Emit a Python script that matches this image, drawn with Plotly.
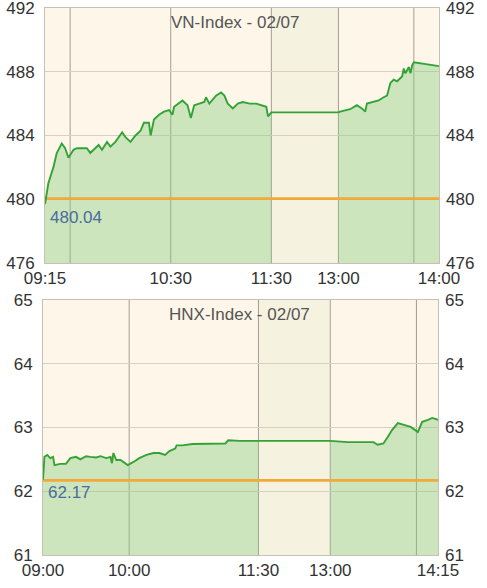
import plotly.graph_objects as go

# ---------------- data ----------------
vn_title = "VN-Index - 02/07"
vn_ref = 480.04
vn_morning_t = ["09:15", "09:17", "09:20", "09:22", "09:25", "09:27", "09:29", "09:32", "09:34",
                "09:40", "09:42", "09:45", "09:47", "09:49", "09:52", "09:54", "09:57", "10:01",
                "10:03", "10:06", "10:09", "10:12", "10:14", "10:17", "10:18", "10:20", "10:23",
                "10:26", "10:29", "10:31", "10:32", "10:37", "10:40", "10:42", "10:44", "10:47",
                "10:50", "10:51", "10:53", "10:57", "11:00", "11:02", "11:04", "11:07", "11:10",
                "11:13", "11:17", "11:21", "11:24", "11:27", "11:28", "11:30"]
vn_morning_v = [479.7, 481.0, 482.0, 482.9, 483.5, 483.2, 482.6, 483.1, 483.2,
                483.2, 482.9, 483.2, 483.4, 483.1, 483.6, 483.3, 483.6, 484.2,
                483.9, 483.6, 484.0, 484.3, 484.8, 484.8, 484.0, 485.0, 485.3,
                485.5, 485.6, 485.3, 485.8, 486.2, 485.9, 485.1, 485.9, 486.0,
                486.1, 486.4, 486.0, 486.5, 486.7, 486.5, 486.0, 485.7, 486.0,
                486.1, 486.0, 486.0, 485.9, 485.8, 485.2, 485.45]
vn_afternoon_t = ["13:00", "13:01", "13:07", "13:11", "13:14", "13:16", "13:17", "13:20", "13:24",
                  "13:27", "13:29", "13:31", "13:33", "13:35", "13:38", "13:39", "13:40", "13:42",
                  "13:43", "13:44", "13:45", "14:00"]
vn_afternoon_v = [485.45, 485.5, 485.65, 485.9, 485.7, 485.5, 486.0, 486.1, 486.2,
                  486.4, 486.5, 487.3, 487.5, 487.4, 487.7, 488.2, 487.9, 488.3,
                  487.9, 488.4, 488.6, 488.35]
vn_open, vn_close = "09:15", "14:00"
vn_yticks = [476, 480, 484, 488, 492]
vn_xticks = ["09:15", "10:30", "11:30", "13:00", "14:00"]
vn_xgrid = ["09:30", "10:30", "11:30", "13:00", "13:45"]

hnx_title = "HNX-Index - 02/07"
hnx_ref = 62.17
hnx_morning_t = ["09:00", "09:01", "09:03", "09:05", "09:07", "09:08", "09:12", "09:16", "09:19",
                 "09:23", "09:26", "09:30", "09:33", "09:37", "09:40", "09:44", "09:47", "09:48",
                 "09:49", "09:51", "09:54", "09:57", "09:59", "10:03", "10:07", "10:12", "10:17",
                 "10:21", "10:25", "10:28", "10:32", "10:33", "10:37", "10:44", "10:51", "11:00",
                 "11:07", "11:09", "11:17", "11:30"]
hnx_morning_v = [62.18, 62.54, 62.57, 62.52, 62.54, 62.41, 62.43, 62.43, 62.52,
                 62.54, 62.50, 62.55, 62.54, 62.53, 62.55, 62.52, 62.54, 62.44,
                 62.60, 62.49, 62.49, 62.44, 62.41, 62.46, 62.52, 62.57, 62.60,
                 62.60, 62.57, 62.63, 62.67, 62.72, 62.72, 62.74, 62.74, 62.75,
                 62.75, 62.80, 62.79, 62.79]
hnx_afternoon_t = ["13:00", "13:12", "13:30", "13:33", "13:37", "13:40", "13:43", "13:47", "13:51",
                   "13:56", "14:01", "14:04", "14:08", "14:11", "14:15"]
hnx_afternoon_v = [62.79, 62.77, 62.77, 62.73, 62.75, 62.85, 62.96, 63.07, 63.04,
                   63.01, 62.93, 63.09, 63.12, 63.15, 63.12]
hnx_open, hnx_close = "09:00", "14:15"
hnx_yticks = [61, 62, 63, 64, 65]
hnx_xticks = ["09:00", "10:00", "11:30", "13:00", "14:15"]
hnx_xgrid = ["10:00", "11:30", "13:00", "14:00"]

LUNCH_START, LUNCH_END = "11:30", "13:00"

# ---------------- styles ----------------
FONT = "Liberation Sans, Arial, sans-serif"
PLOT_BG = "#FEF6E9"
LUNCH_BG = "#F6F2E0"
LINE_C = "#33A336"
FILL_C = "rgba(137,204,128,0.42)"
REF_C = "#F2A93B"
HGRID_C = "#D8D0C1"
VGRID_C = "#A39E93"
BORDER_C = "#C6C1B7"
TICK_C = "#333333"


def mins(t):
    h, m = t.split(":")
    return int(h) * 60 + int(m)


def make_pos(open_t, lunch_gap):
    o = mins(open_t)
    ls, le = mins(LUNCH_START), mins(LUNCH_END)

    def pos(t):
        m = mins(t)
        if m <= ls:
            return m - o
        if m >= le:
            return (ls - o) + lunch_gap + (m - le)
        return (ls - o) + lunch_gap * (m - ls) / (le - ls)
    return pos


fig = go.Figure()

charts = [
    dict(title=vn_title, ref=vn_ref, mt=vn_morning_t, mv=vn_morning_v, at=vn_afternoon_t,
         av=vn_afternoon_v, open=vn_open, close=vn_close, yticks=vn_yticks, xticks=vn_xticks,
         xgrid=vn_xgrid, gap=40, xa="x", ya="y", yr="y3", xdom=[2 / 396, 1], ydom=[292 / 547, 1],
         title_x=0.483, ref_shift=-19),
    dict(title=hnx_title, ref=hnx_ref, mt=hnx_morning_t, mv=hnx_morning_v, at=hnx_afternoon_t,
         av=hnx_afternoon_v, open=hnx_open, close=hnx_close, yticks=hnx_yticks, xticks=hnx_xticks,
         xgrid=hnx_xgrid, gap=50, xa="x2", ya="y2", yr="y4", xdom=[0, 395 / 396], ydom=[0, 255 / 547],
         title_x=0.498, ref_shift=-12),
]

shapes = []
annotations = []
for c in charts:
    pos = make_pos(c["open"], c["gap"])
    xm = [pos(t) for t in c["mt"]]
    xa_ = [pos(t) for t in c["at"]]
    x_end = pos(c["close"])
    # fills (morning & afternoon)
    for xs, ys in ((xm, c["mv"]), (xa_, c["av"])):
        fig.add_trace(go.Scatter(x=xs, y=ys, xaxis=c["xa"], yaxis=c["ya"], mode="lines",
                                 line=dict(width=0), fill="tozeroy", fillcolor=FILL_C,
                                 hoverinfo="skip", showlegend=False))
    # reference line
    fig.add_trace(go.Scatter(x=[0, x_end], y=[c["ref"], c["ref"]], xaxis=c["xa"], yaxis=c["ya"],
                             mode="lines", line=dict(color=REF_C, width=2.6),
                             hoverinfo="skip", showlegend=False))
    # price line (including the lunch break)
    fig.add_trace(go.Scatter(x=xm + xa_, y=c["mv"] + c["av"], xaxis=c["xa"], yaxis=c["ya"],
                             mode="lines", line=dict(color=LINE_C, width=1.9),
                             showlegend=False))
    # dummy for right axis
    fig.add_trace(go.Scatter(x=[None], y=[None], xaxis=c["xa"], yaxis=c["yr"],
                             mode="lines", showlegend=False, hoverinfo="skip"))

    # lunch background
    shapes.append(dict(type="rect", xref=c["xa"], yref=c["ya"] + " domain",
                       x0=pos(LUNCH_START), x1=pos(LUNCH_END), y0=0, y1=1,
                       fillcolor=LUNCH_BG, line=dict(width=0), layer="below"))
    # vertical grid lines
    for g in c["xgrid"]:
        shapes.append(dict(type="line", xref=c["xa"], yref=c["ya"] + " domain",
                           x0=pos(g), x1=pos(g), y0=0, y1=1,
                           line=dict(color=VGRID_C, width=1), layer="below"))

    annotations.append(dict(text=c["title"], xref=c["xa"] + " domain", yref=c["ya"] + " domain",
                            x=c["title_x"], y=1, yshift=-14, xanchor="center", yanchor="middle",
                            showarrow=False, font=dict(family=FONT, size=17, color="#555555")))
    annotations.append(dict(text=f"{c['ref']:.2f}", xref=c["xa"] + " domain", yref=c["ya"],
                            x=0, y=c["ref"], xshift=3, yshift=c["ref_shift"], xanchor="left",
                            yanchor="middle", showarrow=False,
                            font=dict(family=FONT, size=17, color="#4A6C9E")))

    axis_x = dict(domain=c["xdom"], range=[0, x_end], anchor=c["ya"], tickmode="array",
                  tickvals=[pos(t) for t in c["xticks"]], ticktext=c["xticks"],
                  showgrid=False, zeroline=False, showline=True, linecolor=BORDER_C,
                  linewidth=1, mirror=True, ticks="", automargin=False, ticklabeloverflow="allow",
                  tickfont=dict(family=FONT, size=17, color=TICK_C), fixedrange=True)
    axis_y = dict(domain=c["ydom"], range=[c["yticks"][0], c["yticks"][-1]], anchor=c["xa"],
                  tickmode="array", tickvals=c["yticks"], ticktext=[str(v) for v in c["yticks"]],
                  showgrid=True, gridcolor=HGRID_C, gridwidth=1, zeroline=False, showline=True,
                  linecolor=BORDER_C, linewidth=1, mirror=True, ticks="", ticklabelstandoff=6,
                  automargin=False, ticklabeloverflow="allow",
                  tickfont=dict(family=FONT, size=17, color=TICK_C), fixedrange=True)
    axis_yr = dict(range=[c["yticks"][0], c["yticks"][-1]], overlaying=c["ya"], anchor=c["xa"],
                   side="right", matches=c["ya"], tickmode="array", tickvals=c["yticks"],
                   ticktext=[str(v) for v in c["yticks"]], showgrid=False, zeroline=False,
                   showline=False, ticks="", ticklabelstandoff=6, automargin=False,
                   ticklabeloverflow="allow",
                   tickfont=dict(family=FONT, size=17, color=TICK_C), fixedrange=True)
    xk = "xaxis" if c["xa"] == "x" else "xaxis" + c["xa"][1:]
    yk = "yaxis" if c["ya"] == "y" else "yaxis" + c["ya"][1:]
    yrk = "yaxis" + c["yr"][1:]
    fig.update_layout(**{xk: axis_x, yk: axis_y, yrk: axis_yr})

fig.update_layout(
    width=487, height=588,
    margin=dict(l=43, r=48, t=8, b=33, autoexpand=False),
    paper_bgcolor="white", plot_bgcolor=PLOT_BG,
    shapes=shapes, annotations=annotations,
    showlegend=False,
    font=dict(family=FONT, size=17, color=TICK_C),
)

fig.write_html("out.html",
               config={"displayModeBar": False, "staticPlot": True},
               post_script="document.body.style.margin='0px';document.body.style.overflow='hidden';")
